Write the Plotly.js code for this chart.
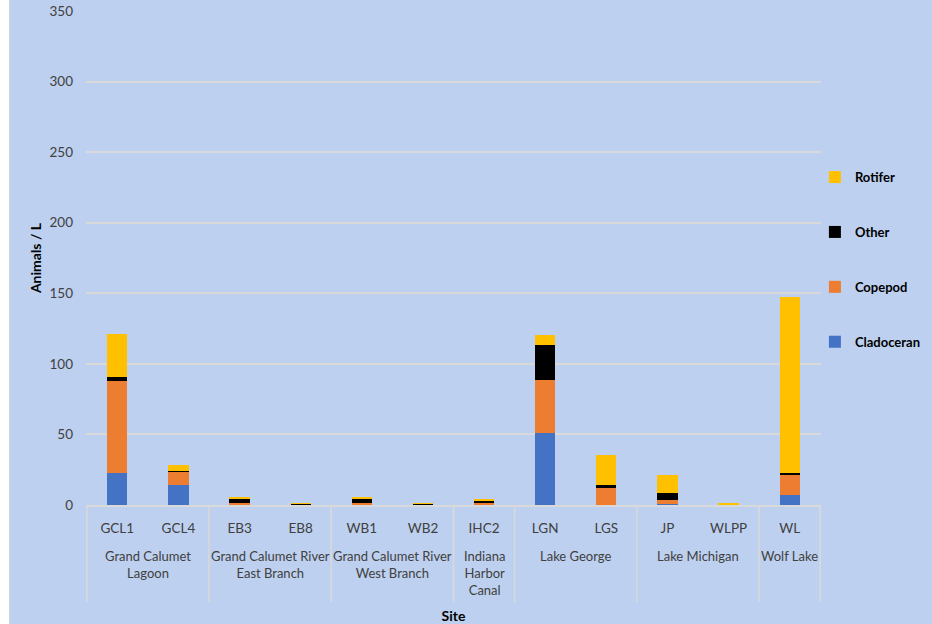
<!DOCTYPE html>
<html>
<head>
<meta charset="utf-8">
<script src="https://cdn.plot.ly/plotly-3.0.1.min.js"></script>
<style>
  html, body { margin: 0; padding: 0; background: #ffffff; }
  #chart { position: absolute; left: 9px; top: 0; width: 923px; height: 624px;
           border-left: 1px solid #d4d4d4; box-sizing: border-box; }
</style>
</head>
<body>
<div id="chart"></div>
<script>
// Sampling sites and the water body each belongs to
const sites  = ["GCL1", "GCL4", "EB3", "EB8", "WB1", "WB2", "IHC2", "LGN", "LGS", "JP", "WLPP", "WL"];
const groups = ["Grand Calumet<br>Lagoon", "Grand Calumet<br>Lagoon",
                "Grand Calumet River<br>East Branch", "Grand Calumet River<br>East Branch",
                "Grand Calumet River<br>West Branch", "Grand Calumet River<br>West Branch",
                "Indiana<br>Harbor<br>Canal",
                "Lake George", "Lake George",
                "Lake Michigan", "Lake Michigan",
                "Wolf Lake"];

// Zooplankton density (animals per litre) by taxon
const cladoceran = [23, 14, 0, 0, 0, 0, 0, 51, 0.3, 0.5, 0, 7];
const copepod    = [65, 9.5, 1.2, 0.3, 1.4, 0.3, 1.2, 37.5, 12, 3.2, 0.3, 14];
const other      = [3, 0.3, 3.5, 0.5, 3.3, 0.9, 1.9, 25, 1.8, 4.6, 0.4, 1.7];
const rotifer    = [30, 4.7, 0.5, 0.2, 0.7, 0.2, 0.9, 7.3, 21.5, 12.8, 0.3, 125];

const yTicks = [0, 50, 100, 150, 200, 250, 300, 350];

const FONT = "Lato, 'Noto Sans', sans-serif";

// Stacking order bottom-up; legend lists them top-down (Rotifer first)
const series = [
  { name: "Cladoceran", y: cladoceran, color: "#4472C4", rank: 4 },
  { name: "Copepod",    y: copepod,    color: "#ED7D31", rank: 3 },
  { name: "Other",      y: other,      color: "#000000", rank: 2 },
  { name: "Rotifer",    y: rotifer,    color: "#FFC000", rank: 1 }
];

const traces = series.map(s => ({
  type: "bar",
  name: s.name,
  legendgroup: s.name,
  legendrank: s.rank,
  x: sites,
  y: s.y,
  marker: { color: s.color, line: { width: 0 } },
  hovertemplate: "%{x}: %{y}<extra>" + s.name + "</extra>"
}));

// Group labels centred under their sites, and divider lines between groups
const annotations = [];
const shapes = [];
let start = 0;
for (let i = 1; i <= groups.length; i++) {
  if (i === groups.length || groups[i] !== groups[start]) {
    annotations.push({
      xref: "x", yref: "paper",
      x: (start + i - 1) / 2, y: 0, yanchor: "top", yshift: -41,
      text: groups[start], showarrow: false,
      font: { family: FONT, size: 13, color: "#404040" }
    });
    start = i;
  }
}
const bounds = [-0.5];
for (let i = 1; i < groups.length; i++) if (groups[i] !== groups[i - 1]) bounds.push(i - 0.5);
bounds.push(groups.length - 0.5);
bounds.forEach(b => shapes.push({
  type: "line", xref: "x", yref: "paper",
  x0: b, x1: b, y0: 0, y1: -0.196,
  line: { color: "#D9D9D9", width: 1.5 }
}));

const layout = {
  width: 922, height: 624,
  margin: { l: 76, r: 111, t: 11, b: 119, autoexpand: false },
  paper_bgcolor: "#BDD0EF",
  plot_bgcolor: "#BDD0EF",
  barmode: "stack",
  bargap: 0.67,
  showlegend: true,
  legend: {
    xref: "container", yref: "container",
    x: 0.873, xanchor: "left", y: 0.584, yanchor: "middle",
    traceorder: "grouped",
    tracegroupgap: 35,
    font: { family: FONT, size: 13, color: "#000000", weight: "bold" },
    bgcolor: "rgba(0,0,0,0)"
  },
  xaxis: {
    type: "category",
    categoryorder: "array", categoryarray: sites,
    showgrid: false, zeroline: false,
    showline: true, linecolor: "#D9D9D9", linewidth: 1.5,
    ticks: "", ticklabelstandoff: 10,
    tickfont: { family: FONT, size: 13.5, color: "#404040" },
    title: { text: "Site", standoff: 77,
             font: { family: FONT, size: 14, color: "#000000", weight: "bold" } },
    automargin: false
  },
  yaxis: {
    range: [0, 350],
    tickvals: yTicks,
    showgrid: true, gridcolor: "#D9D9D9", gridwidth: 1.5,
    zeroline: false, showline: false,
    ticks: "", ticklabelstandoff: 12,
    tickfont: { family: FONT, size: 13.5, color: "#404040" },
    title: { text: "Animals / L", standoff: 4,
             font: { family: FONT, size: 14, color: "#000000", weight: "bold" } },
    automargin: false
  },
  annotations: annotations,
  shapes: shapes
};

Plotly.newPlot("chart", traces, layout, { displayModeBar: false, responsive: false });
</script>
</body>
</html>
